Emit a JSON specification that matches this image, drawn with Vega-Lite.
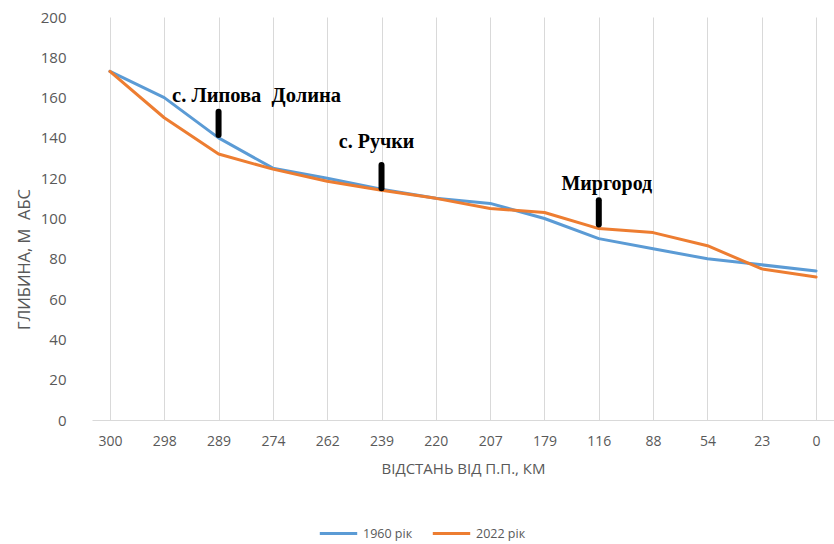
{
  "$schema": "https://vega.github.io/schema/vega-lite/v6.json",
  "autosize": "none",
  "width": 742,
  "height": 403,
  "padding": {"left": 92, "top": 17, "right": 0, "bottom": 124},
  "background": "#ffffff",
  "config": {
    "view": {"stroke": null},
    "font": "Open Sans",
    "axis": {"labelColor": "#595959", "titleColor": "#595959", "labelFontSize": 14, "titleFontSize": 15, "titleFontWeight": "normal", "ticks": false},
    "legend": {"labelColor": "#595959", "labelFontSize": 12.5}
  },
  "datasets": {
    "profile": [
      {"km": "300", "year": "1960 рік", "depth": 173},
      {"km": "298", "year": "1960 рік", "depth": 160},
      {"km": "289", "year": "1960 рік", "depth": 140},
      {"km": "274", "year": "1960 рік", "depth": 125},
      {"km": "262", "year": "1960 рік", "depth": 120},
      {"km": "239", "year": "1960 рік", "depth": 114.5},
      {"km": "220", "year": "1960 рік", "depth": 110},
      {"km": "207", "year": "1960 рік", "depth": 107.5},
      {"km": "179", "year": "1960 рік", "depth": 100},
      {"km": "116", "year": "1960 рік", "depth": 90},
      {"km": "88", "year": "1960 рік", "depth": 85},
      {"km": "54", "year": "1960 рік", "depth": 80},
      {"km": "23", "year": "1960 рік", "depth": 77},
      {"km": "0", "year": "1960 рік", "depth": 74},
      {"km": "300", "year": "2022 рік", "depth": 173},
      {"km": "298", "year": "2022 рік", "depth": 150},
      {"km": "289", "year": "2022 рік", "depth": 132},
      {"km": "274", "year": "2022 рік", "depth": 124.5},
      {"km": "262", "year": "2022 рік", "depth": 118.5},
      {"km": "239", "year": "2022 рік", "depth": 114},
      {"km": "220", "year": "2022 рік", "depth": 110},
      {"km": "207", "year": "2022 рік", "depth": 105},
      {"km": "179", "year": "2022 рік", "depth": 103},
      {"km": "116", "year": "2022 рік", "depth": 95},
      {"km": "88", "year": "2022 рік", "depth": 93},
      {"km": "54", "year": "2022 рік", "depth": 86.5},
      {"km": "23", "year": "2022 рік", "depth": 75},
      {"km": "0", "year": "2022 рік", "depth": 71}
    ],
    "marks": [
      {"km": "289", "name": "с. Липова\u00a0 Долина", "ty": 161, "y1": 153, "y2": 141.5},
      {"km": "239", "name": "с. Ручки", "ty": 138, "y1": 126.5, "y2": 115},
      {"km": "116", "name": "Миргород", "ty": 117, "y1": 109, "y2": 97}
    ]
  },
  "layer": [
    {
      "data": {"name": "profile"},
      "mark": {"type": "line", "strokeWidth": 3, "strokeJoin": "round", "strokeCap": "round"},
      "encoding": {
        "x": {
          "field": "km", "type": "ordinal",
          "sort": ["300","298","289","274","262","239","220","207","179","116","88","54","23","0"],
          "scale": {"type": "point", "padding": 0.33},
          "axis": {"title": "ВІДСТАНЬ ВІД П.П., КМ", "labelAngle": 0, "grid": true, "gridColor": "#d9d9d9", "domainColor": "#d9d9d9", "labelPadding": 14, "titlePadding": 13}
        },
        "y": {
          "field": "depth", "type": "quantitative",
          "scale": {"domain": [0, 200], "nice": false},
          "axis": {"title": "ГЛИБИНА, М\u00a0 АБС", "titleFontSize": 16.5, "labelFontSize": 15, "titleY": 242, "values": [0,20,40,60,80,100,120,140,160,180,200], "grid": false, "domain": false, "labelPadding": 26, "titlePadding": 8}
        },
        "color": {
          "field": "year", "type": "nominal",
          "scale": {"domain": ["1960 рік", "2022 рік"], "range": ["#5B9BD5", "#ED7D31"]},
          "legend": {"title": null, "orient": "none", "direction": "horizontal", "legendX": 226, "legendY": 496, "symbolType": "stroke", "symbolSize": 1400, "symbolStrokeWidth": 3, "columnPadding": 13, "labelOffset": 4}
        }
      }
    },
    {
      "data": {"name": "marks"},
      "mark": {"type": "rule", "strokeWidth": 6, "strokeCap": "round", "color": "#000000"},
      "encoding": {
        "x": {"field": "km", "type": "ordinal", "sort": ["300","298","289","274","262","239","220","207","179","116","88","54","23","0"]},
        "y": {"field": "y1", "type": "quantitative"},
        "y2": {"field": "y2"}
      }
    },
    {
      "data": {"name": "marks"},
      "transform": [{"filter": "datum.km == '289'"}],
      "mark": {"type": "text", "font": "Liberation Serif", "fontWeight": "bold", "fontSize": 20.5, "color": "#000000", "dx": 38, "baseline": "middle"},
      "encoding": {
        "x": {"field": "km", "type": "ordinal", "sort": ["300","298","289","274","262","239","220","207","179","116","88","54","23","0"]},
        "y": {"field": "ty", "type": "quantitative"},
        "text": {"field": "name"}
      }
    },
    {
      "data": {"name": "marks"},
      "transform": [{"filter": "datum.km == '239'"}],
      "mark": {"type": "text", "font": "Liberation Serif", "fontWeight": "bold", "fontSize": 20, "color": "#000000", "dx": -5, "baseline": "middle"},
      "encoding": {
        "x": {"field": "km", "type": "ordinal", "sort": ["300","298","289","274","262","239","220","207","179","116","88","54","23","0"]},
        "y": {"field": "ty", "type": "quantitative"},
        "text": {"field": "name"}
      }
    },
    {
      "data": {"name": "marks"},
      "transform": [{"filter": "datum.km == '116'"}],
      "mark": {"type": "text", "font": "Liberation Serif", "fontWeight": "bold", "fontSize": 20, "color": "#000000", "dx": 8, "baseline": "middle"},
      "encoding": {
        "x": {"field": "km", "type": "ordinal", "sort": ["300","298","289","274","262","239","220","207","179","116","88","54","23","0"]},
        "y": {"field": "ty", "type": "quantitative"},
        "text": {"field": "name"}
      }
    }
  ]
}
